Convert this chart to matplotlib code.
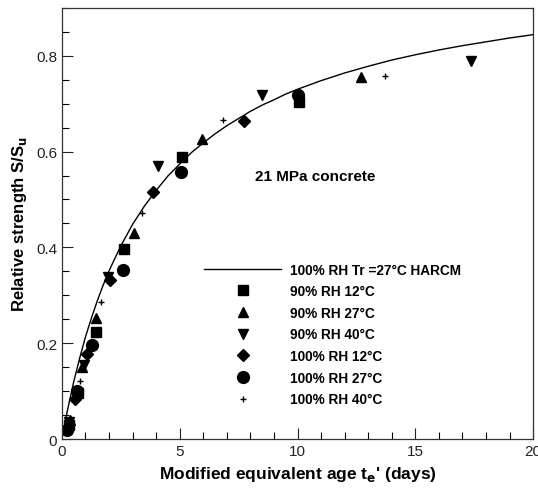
import matplotlib
matplotlib.use("Agg")
import matplotlib.pyplot as plt
from matplotlib.ticker import MultipleLocator

plt.rcParams['font.family'] = ['Liberation Sans', 'DejaVu Sans']

# HARCM model curve
curve_t = [0, 0.1, 0.25, 0.5, 0.75, 1, 1.25, 1.5, 1.75, 2, 2.5, 3, 3.5, 4, 4.5, 5, 5.5, 6,
           6.5, 7, 7.5, 8, 8.5, 9, 9.5, 10, 11, 12, 13, 14, 15, 16, 17, 18, 19, 20]
curve_s = [0, 0.026, 0.063, 0.119, 0.168, 0.213, 0.252, 0.288, 0.321, 0.351, 0.403, 0.448,
           0.486, 0.519, 0.549, 0.574, 0.598, 0.618, 0.637, 0.654, 0.669, 0.684, 0.697,
           0.708, 0.720, 0.730, 0.748, 0.764, 0.778, 0.791, 0.802, 0.812, 0.821, 0.829,
           0.837, 0.844]

rh90_12_t = [0.3, 0.7, 1.45, 2.65, 5.1, 10.05]
rh90_12_s = [0.03, 0.097, 0.224, 0.397, 0.589, 0.703]
rh90_27_t = [0.35, 0.85, 1.45, 3.05, 5.95, 12.7]
rh90_27_s = [0.04, 0.15, 0.253, 0.43, 0.626, 0.756]
rh90_40_t = [0.3, 0.95, 1.97, 4.06, 8.48, 17.35]
rh90_40_s = [0.035, 0.155, 0.338, 0.569, 0.717, 0.79]
rh100_12_t = [0.25, 0.55, 1.08, 2.05, 3.85, 7.73]
rh100_12_s = [0.022, 0.083, 0.178, 0.333, 0.515, 0.663]
rh100_27_t = [0.2, 0.65, 1.29, 2.6, 5.05, 10.03]
rh100_27_s = [0.018, 0.1, 0.196, 0.353, 0.558, 0.717]
rh100_40_t = [0.35, 0.78, 1.65, 3.38, 6.85, 13.7]
rh100_40_s = [0.04, 0.121, 0.286, 0.472, 0.665, 0.758]

fig = plt.figure(figsize=(5.38, 4.89), dpi=100)
ax = fig.add_axes([0.115, 0.1, 0.876, 0.882])

ax.plot(curve_t, curve_s, color='black', lw=1.0, label='100% RH Tr =27\u00b0C HARCM')
ax.plot(rh90_12_t, rh90_12_s, 's', color='black', ms=7, ls='none', label='90% RH 12\u00b0C')
ax.plot(rh90_27_t, rh90_27_s, '^', color='black', ms=7.5, ls='none', label='90% RH 27\u00b0C')
ax.plot(rh90_40_t, rh90_40_s, 'v', color='black', ms=7.5, ls='none', label='90% RH 40\u00b0C')
ax.plot(rh100_12_t, rh100_12_s, 'D', color='black', ms=6, ls='none', label='100% RH 12\u00b0C')
ax.plot(rh100_27_t, rh100_27_s, 'o', color='black', ms=8.5, ls='none', label='100% RH 27\u00b0C')
ax.plot(rh100_40_t, rh100_40_s, '+', color='black', ms=5, mew=1.0, ls='none', label='100% RH 40\u00b0C')

ax.set_xlim(0, 20)
ax.set_ylim(0, 0.9)
ax.xaxis.set_major_locator(MultipleLocator(5))
ax.xaxis.set_minor_locator(MultipleLocator(1))
ax.yaxis.set_minor_locator(MultipleLocator(0.05))
ax.set_yticks([0, 0.2, 0.4, 0.6, 0.8])
ax.set_yticklabels(['0', '0.2', '0.4', '0.6', '0.8'])
ax.tick_params(which='major', direction='in', length=8, width=0.8, labelsize=11, colors='#222222')
ax.tick_params(which='minor', direction='in', length=5, width=0.8)
for s in ax.spines.values():
    s.set_linewidth(0.9)
    s.set_color('#333333')

ax.set_xlabel("Modified equivalent age t$_\\mathbf{e}$' (days)", fontsize=12.5, fontweight='bold', labelpad=4)
ax.set_ylabel("Relative strength S/S$_\\mathbf{u}$", fontsize=12, fontweight='bold', labelpad=5)

ax.text(0.41, 0.6, '21 MPa concrete', transform=ax.transAxes, fontsize=11, fontweight='bold')

leg = ax.legend(loc='upper left', bbox_to_anchor=(0.291, 0.422), frameon=False,
                prop={'weight': 'bold', 'size': 9.8}, handlelength=5.6, handletextpad=0.65,
                labelspacing=0.56, borderaxespad=0)

fig.savefig('out.png', dpi=100)
